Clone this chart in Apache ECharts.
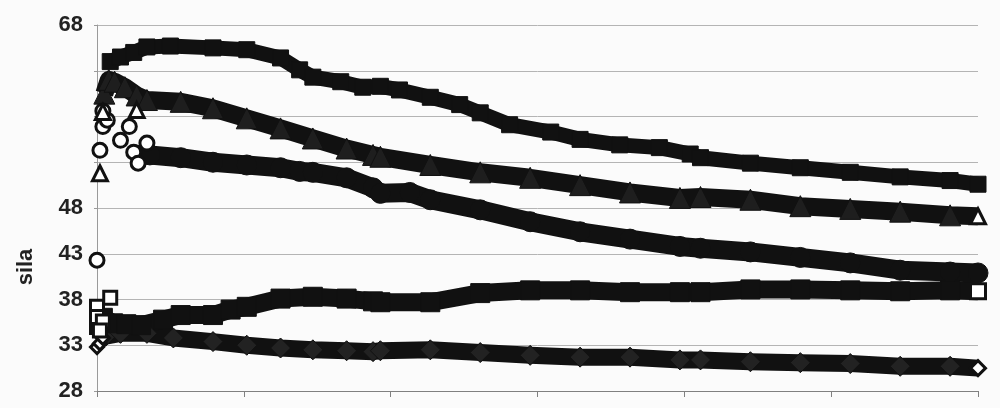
<!DOCTYPE html>
<html><head><meta charset="utf-8">
<script src="https://cdn.jsdelivr.net/npm/echarts@6/dist/echarts.min.js"></script>
<style>html,body{margin:0;padding:0;background:#fbfbfb}#c{width:1000px;height:408px}</style>
</head><body><div id="c"></div>
<script>
// y tick labels (53/58/63 are faded out of the scan, so they are not printed)
const yTicks = [28, 33, 38, 43, 48, 53, 58, 63, 68];
const fadedTicks = [53, 58, 63];
const xTicks = [0, 100, 200, 300, 400, 500, 600];

// series 1: filled squares (top)
const squaresFilled = [[9,64.0],[16,64.5],[25,65.0],[34,65.6],[50,65.7],[79,65.5],[102,65.3],[125,64.4],[138,63.1],[147,62.3],[166,61.8],[181,61.2],[193,61.3],[206,60.9],[227,60.1],[247,59.3],[261,58.4],[281,57.1],[309,56.3],[329,55.5],[356,54.9],[383,54.6],[404,53.9],[411,53.5],[445,52.9],[479,52.4],[513,51.9],[547,51.4],[581,51.0],[600,50.6]];

// series 2: triangles
const trianglesEarly = [[2,51.8],[4,58.5],[27,58.7]];
const triangles = [[5,60.5],[8,62.0],[12,61.8],[19,61.2],[27,60.3],[34,59.8],[57,59.6],[79,58.9],[102,57.8],[125,56.7],[147,55.6],[170,54.5],[188,53.8],[193,53.6],[227,52.7],[261,51.9],[295,51.3],[329,50.5],[363,49.7],[397,49.1],[411,49.2],[445,48.9],[479,48.2],[513,47.9],[547,47.6],[581,47.2],[600,47.1]];

// series 3: circles
const circlesEarly = [[0,42.3],[2,54.3],[4,56.9],[7,57.6],[4,58.6],[16,55.4],[22,56.9],[25,54.1],[28,52.9],[34,55.1]];
const circles = [[30,53.8],[36,53.8],[57,53.5],[79,53.0],[102,52.7],[125,52.4],[138,52.0],[147,51.9],[170,51.3],[188,50.2],[193,49.6],[213,49.7],[227,48.9],[261,47.8],[295,46.5],[329,45.4],[363,44.6],[397,43.8],[411,43.6],[445,43.2],[479,42.6],[513,42.0],[547,41.2],[581,41.0],[600,40.9]];

// series 4: open squares
const squaresEarly = [[0,37.2],[0,35.0],[0,36.1],[9,38.2],[4,35.6],[2,34.6]];
const squares = [[4,36.0],[11,35.4],[20,35.3],[30,35.2],[45,35.8],[57,36.3],[79,36.3],[91,36.9],[102,37.2],[125,38.1],[147,38.3],[170,38.1],[188,37.8],[193,37.7],[227,37.7],[261,38.7],[295,39.0],[329,39.0],[363,38.8],[397,38.8],[411,38.8],[445,39.1],[479,39.1],[513,39.0],[547,38.9],[581,39.0],[600,38.9]];

// series 5: diamonds
const diamondsEarly = [[0,32.8],[2,33.2],[4,33.8]];
const diamonds = [[6,34.0],[16,34.3],[34,34.3],[52,33.8],[79,33.4],[102,33.0],[125,32.7],[147,32.5],[170,32.4],[188,32.3],[193,32.4],[227,32.5],[261,32.2],[295,31.9],[329,31.7],[363,31.7],[397,31.4],[411,31.4],[445,31.2],[479,31.1],[513,31.0],[547,30.7],[581,30.7],[600,30.5]];

const INK = '#111111';
function band(data, symbol, size, lw, fill, endWhite) {
  const d = data.map((p, i) => (endWhite && i === data.length - 1)
    ? { value: p, symbolSize: 15, itemStyle: { color: '#fff', borderColor: INK, borderWidth: 3 } }
    : p);
  return {
    type: 'line', data: d, symbol: symbol, symbolSize: size, showSymbol: true,
    lineStyle: { width: lw, color: INK, join: 'round', cap: 'butt' },
    itemStyle: { color: fill, borderColor: INK, borderWidth: 1, opacity: 1 },
    z: 2, animation: false, silent: true
  };
}
function early(data, symbol, size) {
  return {
    type: 'scatter', data: data, symbol: symbol, symbolSize: size,
    itemStyle: { color: '#fff', borderColor: INK, borderWidth: 3, opacity: 1 },
    z: 3, animation: false, silent: true
  };
}

const chart = echarts.init(document.getElementById('c'));
chart.setOption({
  backgroundColor: '#fbfbfb',
  animation: false,
  grid: { left: 97, right: 22, top: 25, bottom: 17 },
  xAxis: {
    type: 'value', min: xTicks[0], max: xTicks[xTicks.length - 1], interval: 100,
    axisLine: { show: true, lineStyle: { color: '#808080', width: 1 } },
    axisTick: { show: true, length: 6, lineStyle: { color: '#808080' } },
    axisLabel: { show: false },
    splitLine: { show: false }
  },
  yAxis: {
    type: 'value', min: yTicks[0], max: yTicks[yTicks.length - 1], interval: 5,
    axisLine: { show: true, lineStyle: { color: '#9a9a9a', width: 1 } },
    axisTick: { show: true, length: 3, lineStyle: { color: '#9a9a9a' } },
    axisLabel: {
      margin: 14, color: '#222', fontSize: 22, fontWeight: 'bold', fontFamily: 'Liberation Sans, Arial, sans-serif',
      formatter: function (v) { return fadedTicks.indexOf(Math.round(v)) >= 0 ? '' : String(v); }
    },
    splitLine: { show: true, lineStyle: { color: '#b4b4b4', width: 1 } }
  },
  graphic: [{
    type: 'text', x: 26, y: 267, rotation: Math.PI / 2,
    style: { text: 'sila', fontSize: 22, fontWeight: 'bold', fontFamily: 'Liberation Sans, Arial, sans-serif',
      fill: '#222', align: 'center', verticalAlign: 'middle' }
  }],
  series: [
    band(diamonds, 'diamond', 20, 17, '#222', true),
    band(squares, 'rect', 19, 18, INK, true),
    band(circles, 'circle', 20, 19, INK, false),
    band(triangles, 'triangle', 21, 18, '#1e1e1e', true),
    band(squaresFilled, 'rect', 16, 15, INK, false),
    early(diamondsEarly, 'diamond', 13),
    early(squaresEarly, 'rect', 13),
    early(circlesEarly, 'circle', 14),
    early(trianglesEarly, 'triangle', 15)
  ]
});
</script>
</body></html>
